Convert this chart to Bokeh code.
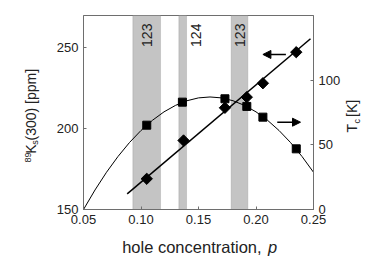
import math
from bokeh.plotting import figure
from bokeh.models import (Range1d, LinearAxis, Label, BoxAnnotation, Arrow,
                          NormalHead, FixedTicker, CustomJSTickFormatter)
from bokeh.embed import file_html
from bokeh.resources import INLINE

# ---- data ----
p_ks = [0.105, 0.137, 0.173, 0.192, 0.206, 0.235]
ks = [169.0, 192.7, 212.9, 219.5, 228.1, 247.3]

p_tc = [0.105, 0.136, 0.173, 0.192, 0.206, 0.235]
tc = [65.2, 83.0, 85.6, 79.7, 71.4, 46.9]

# linear fit to Ks (end points read)
fit_p = [0.088, 0.2474]
fit_ks = [159.7, 255.6]

# dome-shaped Tc curve
curve_p = [0.05, 0.06, 0.07, 0.08, 0.09, 0.10, 0.11, 0.12, 0.13, 0.14, 0.15,
           0.16, 0.17, 0.18, 0.19, 0.20, 0.21, 0.22, 0.23, 0.24, 0.25]
curve_tc = [0.0, 15.1, 28.8, 41.0, 51.8, 61.1, 69.0, 75.5, 80.5, 84.1, 86.3,
            87.0, 86.3, 84.1, 80.5, 75.5, 69.0, 61.1, 51.8, 41.0, 28.8]

# shaded phase bands
band_left = [0.0929, 0.1329, 0.1784]
band_right = [0.1170, 0.1396, 0.1929]
band_text = ["123", "124", "123"]

x_ticks = [0.05, 0.10, 0.15, 0.20, 0.25]
ks_ticks = [150, 200, 250]
tc_ticks = [0, 50, 100]

# ---- layout / style ----
FONT = "Liberation Sans"
FRAME = "#6e6e6e"
TXT = "#222222"
A = math.pi / 2

band_text_p = [0.1054, 0.1474, 0.1857]

p = figure(width=374, height=273, frame_width=230, frame_height=194,
           min_border_left=83, min_border_right=61, min_border_top=15,
           min_border_bottom=64, output_backend="svg", toolbar_location=None,
           x_range=Range1d(0.05, 0.25), y_range=Range1d(150, 270))
p.extra_y_ranges = {"tc": Range1d(0, 150)}
p.grid.visible = False
p.outline_line_color = FRAME

rax = LinearAxis(y_range_name="tc")
p.add_layout(rax, "right")

for ax, ticks in ((p.xaxis[0], x_ticks), (p.yaxis[0], ks_ticks), (rax, tc_ticks)):
    ax.ticker = FixedTicker(ticks=ticks)
    ax.axis_line_color = FRAME
    ax.major_tick_line_color = FRAME
    ax.major_tick_in = 3
    ax.major_tick_out = 0
    ax.minor_tick_line_color = None
    ax.major_label_text_font = FONT
    ax.major_label_text_font_size = "13px"
    ax.major_label_text_color = TXT
    ax.major_label_standoff = 5

p.xaxis[0].formatter = CustomJSTickFormatter(code="return tick.toFixed(2);")

# bands
for l, r in zip(band_left, band_right):
    p.add_layout(BoxAnnotation(left=l, right=r, fill_color="#c4c4c4", fill_alpha=1.0,
                               line_color="#8a8a8a", line_width=1, level="underlay"))

for t, xp in zip(band_text, band_text_p):
    p.add_layout(Label(x=xp, y=265, text=t, angle=A, text_align="right",
                       text_baseline="middle", text_font=FONT,
                       text_font_size="14px", text_color=TXT))

# Tc curve and points (right axis)
p.line(curve_p, curve_tc, y_range_name="tc", line_color="black", line_width=1)
p.scatter(p_tc, tc, y_range_name="tc", marker="square", size=8,
          fill_color="black", line_color="black")

# Ks fit and points (left axis)
p.line(fit_p, fit_ks, line_color="black", line_width=1.5)
p.scatter(p_ks, ks, marker="square", angle=math.pi / 4, size=8,
          fill_color="black", line_color="black")

# arrows
p.add_layout(Arrow(x_start=0.226, y_start=245.9, x_end=0.206, y_end=245.9,
                   line_width=1.5, line_color="black",
                   end=NormalHead(size=8, fill_color="black", line_color="black")))
p.add_layout(Arrow(x_start=0.2185, y_start=67.5, x_end=0.2387, y_end=67.5,
                   y_range_name="tc", line_width=1.5, line_color="black",
                   end=NormalHead(size=8, fill_color="black", line_color="black")))

# axis titles: placed in side panels (not clipped), positioned in data units
def title(side, x, y, text, size, angle=A, baseline="middle", style="normal"):
    p.add_layout(Label(x=x, y=y, text=text, angle=angle, text_align="left",
                       text_baseline=baseline, text_font=FONT, text_font_size=size,
                       text_font_style=style, text_color=TXT), side)

# x axis title
title("below", 0.0836, 126.8, "hole concentration, ", "16.5px", angle=0, baseline="alphabetic")
title("below", 0.2105, 126.8, "p", "16.5px", angle=0, baseline="alphabetic", style="italic")
# left axis title: 89Ks(300) [ppm]
title("above", 0.00174, 179.0, "89", "9px")
title("left", 0.00478, 184.5, "K (300)  [ppm]", "14px")
title("left", 0.00783, 190.1, "s", "9px")
# right axis title: Tc [K]
title("right", 0.2839, 197.6, "T\u2002[K]", "14px")
title("right", 0.2874, 203.2, "c", "9px")

open("out.html", "w").write(file_html(p, INLINE))
